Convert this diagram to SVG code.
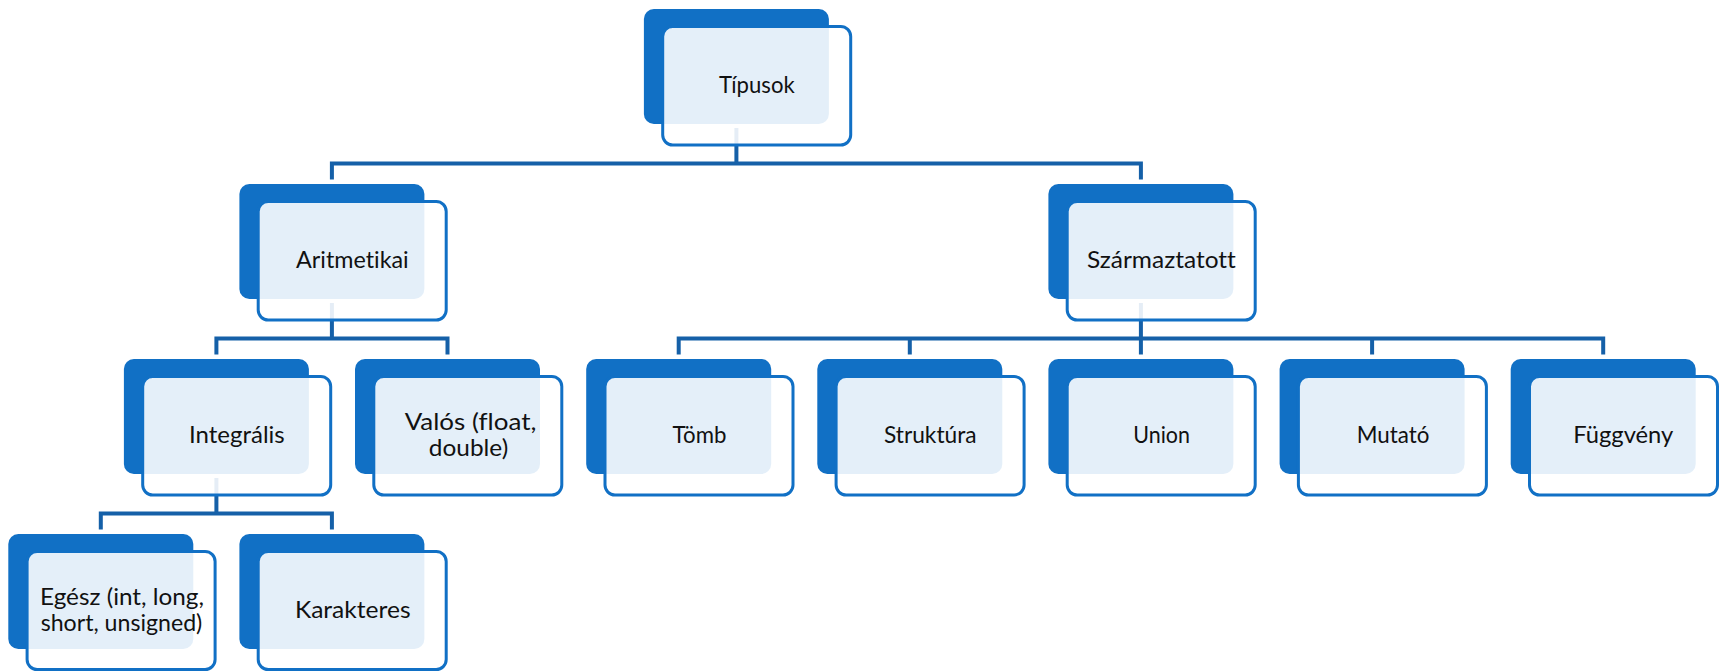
<svg xmlns="http://www.w3.org/2000/svg" width="1725" height="671" viewBox="0 0 1725 671">
<style>
.back{fill:#1170C5}
.front{fill:#ffffff;fill-opacity:0.89;stroke:#1170C5;stroke-width:3}
.lbl{font-family:Lato,"Open Sans","Liberation Sans",sans-serif;font-size:23px;fill:#111111;text-anchor:middle;font-variant-ligatures:none;font-feature-settings:"liga" 0,"clig" 0,"dlig" 0}
.conn{fill:none;stroke:#1560A8;stroke-width:4;stroke-linejoin:miter;stroke-linecap:butt}
</style>
<rect width="1725" height="671" fill="#ffffff"/>
<g id="connectors">
<path class="conn" d="M736.4 128V163.5M331.9 179.5V163.5H1140.9V179.5"/>
<path class="conn" d="M331.9 303V338.5M216.4 354.5V338.5H447.5V354.5"/>
<path class="conn" d="M1140.9 303V354.5M678.7 354.5V338.5H1603.2V354.5M909.8 338.5V354.5M1372.1 338.5V354.5"/>
<path class="conn" d="M216.4 478V513.5M100.8 529.5V513.5H331.9V529.5"/>
</g>
<g id="node-tipusok">
<rect class="back" x="643.9" y="9" width="185" height="115" rx="10"/>
<rect class="front" x="662.7" y="26.5" width="188" height="118.5" rx="10"/>
<text class="lbl" x="756.9" y="92.5" textLength="75.7" lengthAdjust="spacingAndGlyphs">Típusok</text>
</g>
<g id="node-aritmetikai">
<rect class="back" x="239.4" y="184" width="185" height="115" rx="10"/>
<rect class="front" x="258.2" y="201.5" width="188" height="118.5" rx="10"/>
<text class="lbl" x="352.4" y="267.5" textLength="112.6" lengthAdjust="spacingAndGlyphs">Aritmetikai</text>
</g>
<g id="node-szarmaztatott">
<rect class="back" x="1048.4" y="184" width="185" height="115" rx="10"/>
<rect class="front" x="1067.2" y="201.5" width="188" height="118.5" rx="10"/>
<text class="lbl" x="1161.4" y="267.5" textLength="149" lengthAdjust="spacingAndGlyphs">Származtatott</text>
</g>
<g id="node-integralis">
<rect class="back" x="123.9" y="359" width="185" height="115" rx="10"/>
<rect class="front" x="142.7" y="376.5" width="188" height="118.5" rx="10"/>
<text class="lbl" x="236.9" y="442.5" textLength="95.7" lengthAdjust="spacingAndGlyphs">Integrális</text>
</g>
<g id="node-valos">
<rect class="back" x="355" y="359" width="185" height="115" rx="10"/>
<rect class="front" x="373.8" y="376.5" width="188" height="118.5" rx="10"/>
<text class="lbl" x="470.5" y="429.7" textLength="131.7" lengthAdjust="spacingAndGlyphs">Valós (float,</text>
<text class="lbl" x="468.5" y="456.4" textLength="79.3" lengthAdjust="spacingAndGlyphs">double)</text>
</g>
<g id="node-tomb">
<rect class="back" x="586.2" y="359" width="185" height="115" rx="10"/>
<rect class="front" x="605" y="376.5" width="188" height="118.5" rx="10"/>
<text class="lbl" x="699.5" y="442.5" textLength="54" lengthAdjust="spacingAndGlyphs">Tömb</text>
</g>
<g id="node-struktura">
<rect class="back" x="817.3" y="359" width="185" height="115" rx="10"/>
<rect class="front" x="836.1" y="376.5" width="188" height="118.5" rx="10"/>
<text class="lbl" x="930.3" y="442.5" textLength="92.7" lengthAdjust="spacingAndGlyphs">Struktúra</text>
</g>
<g id="node-union">
<rect class="back" x="1048.4" y="359" width="185" height="115" rx="10"/>
<rect class="front" x="1067.2" y="376.5" width="188" height="118.5" rx="10"/>
<text class="lbl" x="1161.6" y="442.5" textLength="56.7" lengthAdjust="spacingAndGlyphs">Union</text>
</g>
<g id="node-mutato">
<rect class="back" x="1279.6" y="359" width="185" height="115" rx="10"/>
<rect class="front" x="1298.4" y="376.5" width="188" height="118.5" rx="10"/>
<text class="lbl" x="1393" y="442.5" textLength="72.7" lengthAdjust="spacingAndGlyphs">Mutató</text>
</g>
<g id="node-fuggveny">
<rect class="back" x="1510.7" y="359" width="185" height="115" rx="10"/>
<rect class="front" x="1529.5" y="376.5" width="188" height="118.5" rx="10"/>
<text class="lbl" x="1623.3" y="442.5" textLength="100" lengthAdjust="spacingAndGlyphs">Függvény</text>
</g>
<g id="node-egesz">
<rect class="back" x="8.3" y="534" width="185" height="115" rx="10"/>
<rect class="front" x="27.1" y="551.5" width="188" height="118" rx="10"/>
<text class="lbl" x="122" y="604.7" textLength="164" lengthAdjust="spacingAndGlyphs">Egész (int, long,</text>
<text class="lbl" x="121.5" y="631.4" textLength="161.6" lengthAdjust="spacingAndGlyphs">short, unsigned)</text>
</g>
<g id="node-karakteres">
<rect class="back" x="239.4" y="534" width="185" height="115" rx="10"/>
<rect class="front" x="258.2" y="551.5" width="188" height="118" rx="10"/>
<text class="lbl" x="352.8" y="617.5" textLength="115.7" lengthAdjust="spacingAndGlyphs">Karakteres</text>
</g>
</svg>
